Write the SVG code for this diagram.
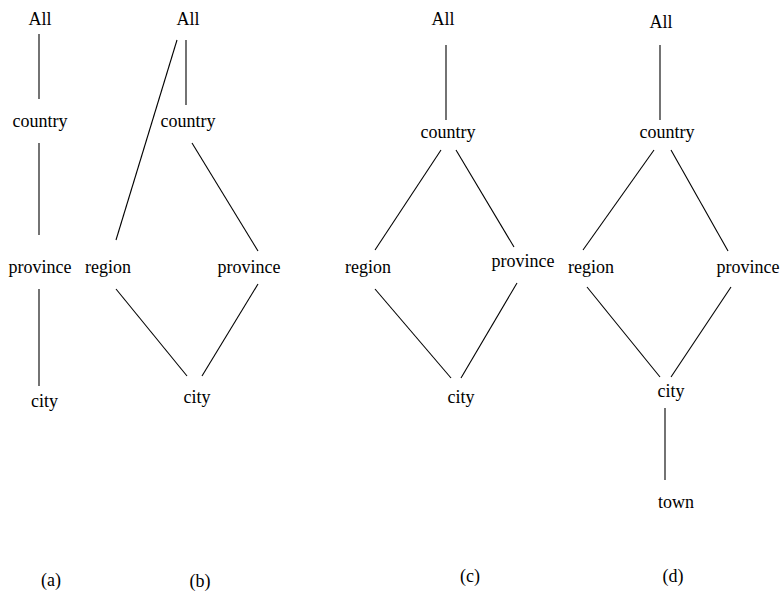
<svg xmlns="http://www.w3.org/2000/svg" width="780" height="591" viewBox="0 0 780 591">
<style>
text{font-family:"Liberation Serif","Times New Roman",serif;font-size:18px;fill:#000;text-anchor:middle}
line{stroke:#000;stroke-width:1.1}
</style>
<rect width="780" height="591" fill="#fff"/>
<g id="connectors">
<line x1="39" y1="34" x2="39" y2="99"/>
<line x1="39" y1="143" x2="39" y2="235"/>
<line x1="39" y1="289" x2="39" y2="386"/>
<line x1="177" y1="40" x2="116" y2="240"/>
<line x1="186" y1="40" x2="186" y2="105"/>
<line x1="192" y1="143" x2="258" y2="251"/>
<line x1="116" y1="289" x2="187" y2="376"/>
<line x1="258" y1="284" x2="202" y2="376"/>
<line x1="446" y1="45" x2="446" y2="120"/>
<line x1="441" y1="150" x2="375" y2="250"/>
<line x1="456" y1="150" x2="514" y2="247"/>
<line x1="375" y1="289" x2="451" y2="378"/>
<line x1="517" y1="283" x2="461" y2="378"/>
<line x1="660" y1="45" x2="660" y2="120"/>
<line x1="654" y1="150" x2="583" y2="250"/>
<line x1="671" y1="150" x2="728" y2="251"/>
<line x1="587" y1="287" x2="660" y2="377"/>
<line x1="731" y1="287" x2="671" y2="377"/>
<line x1="665" y1="408" x2="665" y2="480"/>
</g>
<g id="a-all"><text x="40" y="25">All</text></g>
<g id="a-country"><text x="40" y="127">country</text></g>
<g id="a-province"><text x="40" y="273">province</text></g>
<g id="a-city"><text x="44.5" y="407">city</text></g>
<g id="b-all"><text x="188" y="25">All</text></g>
<g id="b-country"><text x="188" y="127">country</text></g>
<g id="b-region"><text x="108" y="273">region</text></g>
<g id="b-province"><text x="249" y="273">province</text></g>
<g id="b-city"><text x="197" y="403">city</text></g>
<g id="c-all"><text x="443" y="25">All</text></g>
<g id="c-country"><text x="448" y="138">country</text></g>
<g id="c-region"><text x="368" y="273">region</text></g>
<g id="c-province"><text x="523" y="267">province</text></g>
<g id="c-city"><text x="461" y="403">city</text></g>
<g id="d-all"><text x="661" y="28">All</text></g>
<g id="d-country"><text x="667" y="138">country</text></g>
<g id="d-region"><text x="591" y="273">region</text></g>
<g id="d-province"><text x="748" y="273">province</text></g>
<g id="d-city"><text x="671" y="397">city</text></g>
<g id="d-town"><text x="676" y="508">town</text></g>
<g id="captions">
<text x="51" y="586">(a)</text>
<text x="200" y="587">(b)</text>
<text x="470" y="582">(c)</text>
<text x="673" y="582">(d)</text>
</g>
</svg>
